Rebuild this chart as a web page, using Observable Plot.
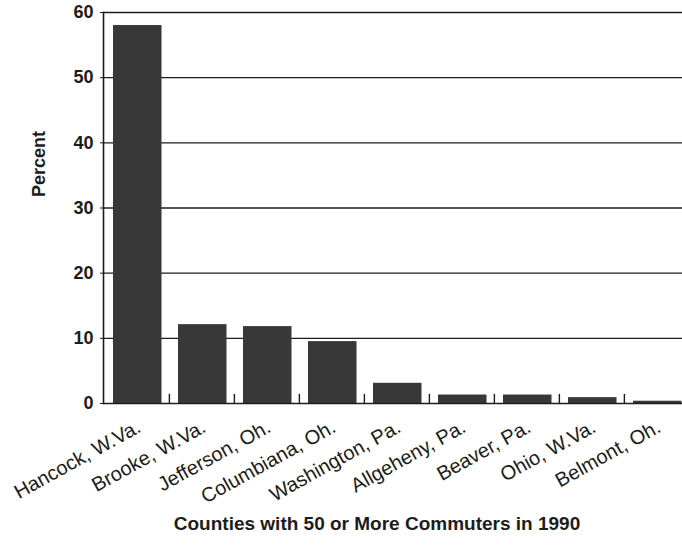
<!DOCTYPE html>
<html>
<head>
<meta charset="utf-8">
<script src="https://cdn.jsdelivr.net/npm/d3@7"></script>
<script src="https://cdn.jsdelivr.net/npm/@observablehq/plot@0.6"></script>
<style>
  html, body { margin: 0; padding: 0; background: #fff; overflow: hidden; }
  #chart svg { display: block; overflow: visible; }
</style>
</head>
<body>
<div id="chart"></div>
<script>
const counties = ["Hancock, W.Va.", "Brooke, W.Va.", "Jefferson, Oh.", "Columbiana, Oh.", "Washington, Pa.", "Allgeheny, Pa.", "Beaver, Pa.", "Ohio, W.Va.", "Belmont, Oh."];
const percents = [58.0, 12.1, 11.8, 9.5, 3.1, 1.3, 1.3, 0.9, 0.35];
const yTicks = [0, 10, 20, 30, 40, 50, 60];
const gridValues = [10, 20, 30, 40, 50, 60];
const yTitle = "Percent";
const xTitle = "Counties with 50 or More Commuters in 1990";

const data = counties.map((c, i) => ({county: c, pct: percents[i]}));

const W = 682, H = 554;
const mL = 103, mR = -8, mT = 12, mB = 151;
const step = (W - mR - mL) / counties.length;
const ink = "#1c1c1c";
const font = "'Liberation Sans', Arial, sans-serif";

const chart = Plot.plot({
  width: W,
  height: H,
  marginLeft: mL,
  marginRight: mR,
  marginTop: mT,
  marginBottom: mB,
  style: {fontFamily: font, color: ink, background: "#fff", overflow: "visible"},
  x: {type: "band", domain: counties, padding: 0},
  y: {domain: [0, 60]},
  marks: [
    Plot.ruleY(gridValues, {stroke: ink, strokeWidth: 1.4}),
    Plot.barY(data, {x: "county", y: "pct", fill: "#383838", insetLeft: 9, insetRight: 7.5}),
    Plot.ruleY([0], {stroke: ink, strokeWidth: 1.6}),
    Plot.ruleX(counties.slice(1), {x: d => d, y1: 0, y2: 1.4, dx: -step / 2, stroke: ink, strokeWidth: 1.4}),
    Plot.frame({anchor: "left", stroke: ink, strokeWidth: 1.6}),
    Plot.axisY({
      ticks: yTicks, tickSize: 3, tickPadding: 7,
      fontSize: 18, fontWeight: "bold", label: null
    }),
    Plot.axisX({
      tickSize: 0, tickRotate: -29, tickPadding: 22, dx: 2,
      fontSize: 20, label: null
    }),
    Plot.text([yTitle], {
      text: d => d, frameAnchor: "left", rotate: -90,
      dx: -64, dy: -11, fontSize: 18, fontWeight: "bold", fill: ink
    }),
    Plot.text([xTitle], {
      text: d => d, frameAnchor: "bottom",
      dx: -20, dy: 126, fontSize: 19, fontWeight: "bold", fill: ink
    })
  ]
});

document.getElementById("chart").appendChild(chart);
</script>
</body>
</html>
